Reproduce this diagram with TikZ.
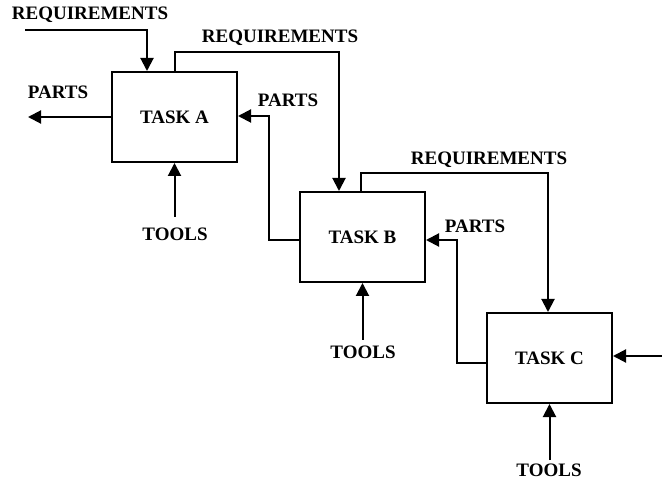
\documentclass[tikz,border=0pt]{standalone}
\usepackage{fontspec}
\setmainfont{Liberation Serif}
\usetikzlibrary{arrows.meta}
\begin{document}
\begin{tikzpicture}[x=1pt,y=-1pt,
  task/.style={draw,line width=2pt,minimum width=125pt,minimum height=90pt,inner sep=0pt,font=\fontsize{19}{22}\selectfont\bfseries},
  lbl/.style={inner sep=0pt,font=\fontsize{19}{22}\selectfont\bfseries},
  flow/.style={line width=2pt,-{Triangle[length=13pt,width=13pt]}}]
\useasboundingbox (0,0) rectangle (662,481);
\node[task] (A) at (174.5,117) {TASK A};
\node[task] (B) at (362.5,237) {TASK B};
\node[task] (C) at (549.5,358) {TASK C};
% requirements
\coordinate (reqin) at (25,30);
\node[lbl] (reqAlbl) at (90,15) {REQUIREMENTS};
\draw[flow] (reqin) -| (A.north -| 147,0);
\node[lbl] (reqABlbl) at (280,38) {REQUIREMENTS};
\draw[flow] (A.north -| 175,0) |- (339,52) -- (B.north -| 339,0);
\node[lbl] (reqBClbl) at (489,160) {REQUIREMENTS};
\draw[flow] (B.north -| 361,0) |- (548,173) -- (C.north -| 548,0);
% parts
\coordinate (partsout) at (28,117);
\node[lbl] (partsAlbl) at (58,92) {PARTS};
\draw[flow] (A.west) -- (partsout);
\node[lbl] (partsBAlbl) at (288,100) {PARTS};
\draw[flow] (B.west |- 0,240) -| (269,116) -- (A.east |- 0,116);
\node[lbl] (partsCBlbl) at (475,226) {PARTS};
\draw[flow] (C.west |- 0,363) -| (457,240) -- (B.east |- 0,240);
% external input to C
\coordinate (cin) at (662,356);
\draw[flow] (cin) -- (C.east |- 0,356);
% tools
\node[lbl] (toolsA) at (175,234) {TOOLS};
\draw[flow] (174.5,217) -- (A.south);
\node[lbl] (toolsB) at (363,352) {TOOLS};
\draw[flow] (362.5,340) -- (B.south);
\node[lbl] (toolsC) at (549,470) {TOOLS};
\draw[flow] (549.5,460) -- (C.south);
\end{tikzpicture}
\end{document}
